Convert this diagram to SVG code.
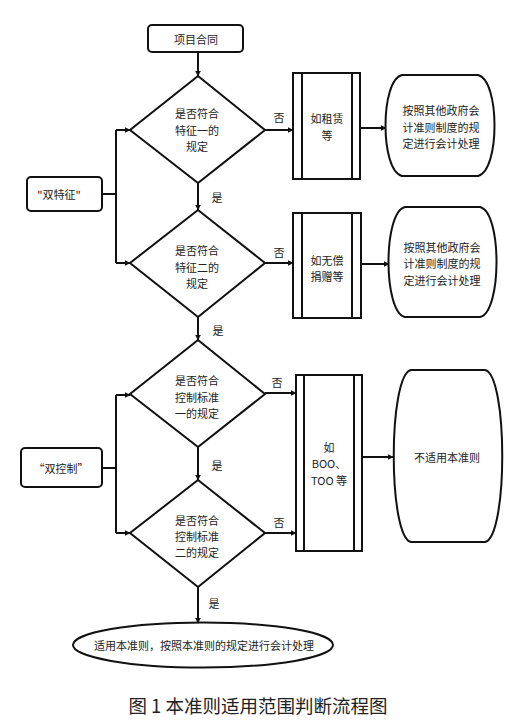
<svg xmlns="http://www.w3.org/2000/svg" width="528" height="725" viewBox="0 0 528 725">
<defs>
<marker id="ah" viewBox="0 0 10 10" refX="9" refY="5" markerWidth="6" markerHeight="6" orient="auto" markerUnits="userSpaceOnUse"><path d="M0,0 L10,5 L0,10 z" fill="#111"/></marker>
<style>
.s{fill:#fff;stroke:#111;stroke-width:2}
.t{font-family:"Noto Sans CJK SC","Liberation Sans",sans-serif;font-size:11px;fill:#222;text-anchor:middle;dominant-baseline:central}
.c{fill:none;stroke:#111;stroke-width:2}
.a{fill:none;stroke:#111;stroke-width:2;marker-end:url(#ah)}
</style>
</defs>
<rect width="528" height="725" fill="#fff"/>
<g id="connectors">
<path class="a" d="M198,52 V76"/>
<path class="a" d="M198,183 V210"/>
<path class="a" d="M198,317 V340"/>
<path class="a" d="M198,447 V480"/>
<path class="a" d="M198,587 V623"/>
<path class="a" d="M265,130 H293"/>
<path class="a" d="M360,128 H386"/>
<path class="a" d="M265,263 H293"/>
<path class="a" d="M361,264 H389"/>
<path class="a" d="M265,393 H296"/>
<path class="a" d="M265,533 H296"/>
<path class="a" d="M362,457 H393"/>
<path class="c" d="M102,194 H116" stroke-width="3"/>
<path class="c" d="M116,130 V263"/>
<path class="a" d="M116,130 H130"/>
<path class="a" d="M116,263 H130"/>
<path class="c" d="M102,468 H116" stroke-width="3"/>
<path class="c" d="M116,395 V533"/>
<path class="a" d="M116,395 H130"/>
<path class="a" d="M116,533 H130"/>
<text class="t" x="217" y="197">是</text>
<text class="t" x="218" y="330">是</text>
<text class="t" x="217" y="465">是</text>
<text class="t" x="214" y="603">是</text>
<text class="t" x="279" y="117">否</text>
<text class="t" x="279" y="252">否</text>
<text class="t" x="277" y="382">否</text>
<text class="t" x="279" y="522">否</text>
</g>
<g id="start"><rect class="s" x="148" y="25" width="95" height="27" rx="4"/><text class="t" x="196" y="38.5">项目合同</text></g>
<g id="d1"><path class="s" d="M198,76 L265,130 L198,183 L130,130 Z"/><text class="t" x="197" y="113">是否符合</text><text class="t" x="197" y="130">特征一的</text><text class="t" x="197" y="146">规定</text></g>
<g id="d2"><path class="s" d="M198,210 L265,263 L198,317 L130,263 Z"/><text class="t" x="197" y="250">是否符合</text><text class="t" x="197" y="267">特征二的</text><text class="t" x="197" y="283">规定</text></g>
<g id="d3"><path class="s" d="M198,340 L265,394 L198,447 L130,394 Z"/><text class="t" x="197" y="380">是否符合</text><text class="t" x="197" y="397">控制标准</text><text class="t" x="197" y="413">一的规定</text></g>
<g id="d4"><path class="s" d="M198,480 L265,533 L198,587 L130,533 Z"/><text class="t" x="197" y="520">是否符合</text><text class="t" x="197" y="536">控制标准</text><text class="t" x="197" y="552">二的规定</text></g>
<g id="dual-feature"><rect class="s" x="27" y="177" width="75" height="34" rx="4"/><text class="t" x="59" y="194">"双特征"</text></g>
<g id="dual-control"><rect class="s" x="21" y="448" width="81" height="39" rx="4"/><text class="t" x="61" y="468">“双控制”</text></g>
<g id="boxA"><rect class="s" x="293" y="73" width="67" height="106"/><path class="c" d="M302,73 V179 M352,73 V179"/><text class="t" x="327" y="118">如租赁</text><text class="t" x="327" y="135">等</text></g>
<g id="boxB"><rect class="s" x="293" y="213" width="68" height="105"/><path class="c" d="M302,213 V318 M352,213 V318"/><text class="t" x="327" y="260">如无偿</text><text class="t" x="327" y="276">捐赠等</text></g>
<g id="boxC"><rect class="s" x="296" y="375" width="66" height="176"/><path class="c" d="M304,375 V551 M354,375 V551"/><text class="t" x="329" y="447">如</text><text class="t" x="329" y="463">BOO、</text><text class="t" x="329" y="480">TOO 等</text></g>
<g id="outA"><path class="s" d="M402,75 H478 C500,80 500,171 478,176 H402 C380,171 380,80 402,75 Z"/><text class="t" x="441" y="110">按照其他政府会</text><text class="t" x="441" y="127">计准则制度的规</text><text class="t" x="441" y="143">定进行会计处理</text></g>
<g id="outB"><path class="s" d="M405,207 H480 C502,212 502,312 480,317 H405 C383,312 383,212 405,207 Z"/><text class="t" x="442" y="247">按照其他政府会</text><text class="t" x="442" y="263">计准则制度的规</text><text class="t" x="442" y="280">定进行会计处理</text></g>
<g id="outC"><path class="s" d="M411,370 H485 C508,375 508,537 485,542 H411 C388,537 388,375 411,370 Z"/><text class="t" x="447" y="457">不适用本准则</text></g>
<g id="end"><ellipse class="s" cx="203" cy="645" rx="130" ry="22.5"/><text class="t" x="204" y="645">适用本准则，按照本准则的规定进行会计处理</text></g>
<text x="258" y="705" font-family="'Noto Sans CJK SC','Liberation Sans',sans-serif" font-size="18.5" fill="#222" text-anchor="middle" dominant-baseline="central">图 1 本准则适用范围判断流程图</text>
</svg>
